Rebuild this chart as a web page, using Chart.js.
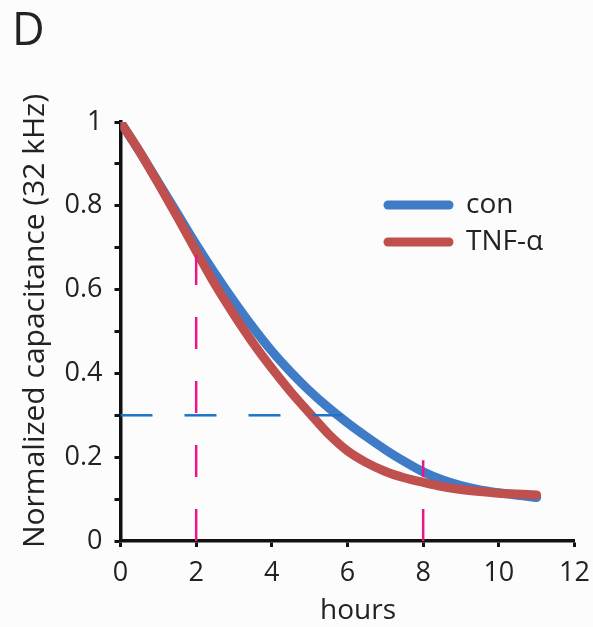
<!DOCTYPE html>
<html>
<head>
<meta charset="utf-8">
<script src="https://cdn.jsdelivr.net/npm/chart.js@4"></script>
<style>
  html, body { margin: 0; padding: 0; background: #fcfcfd; }
  #wrap { width: 593px; height: 627px; position: relative; }
</style>
</head>
<body>
<div id="wrap"><canvas id="chart" width="593" height="627"></canvas></div>
<script>
// --- data ---
const hours = [0, 0.5, 1, 1.5, 2, 2.5, 3, 3.5, 4, 4.5, 5, 5.5, 6, 6.5, 7, 7.5, 8, 8.5, 9, 9.5, 10, 10.5, 11];
const conValues = [1.0, 0.93, 0.856, 0.782, 0.708, 0.638, 0.572, 0.51, 0.453, 0.403, 0.358, 0.318, 0.282, 0.249, 0.218, 0.19, 0.165, 0.146, 0.132, 0.122, 0.115, 0.109, 0.104];
const tnfValues = [1.0, 0.93, 0.853, 0.774, 0.692, 0.612, 0.54, 0.473, 0.412, 0.356, 0.305, 0.255, 0.215, 0.187, 0.166, 0.151, 0.14, 0.13, 0.123, 0.118, 0.114, 0.112, 0.11];

// dashed guide lines
const halfLevelLine = [[0, 0.3], [5.86, 0.3]];
const guide2h = [[2, 0], [2, 0.683]];
const guide8h = [[8, 0], [8, 0.193]];

const xTicks = [0, 2, 4, 6, 8, 10, 12];
const yTicks = [0, 0.2, 0.4, 0.6, 0.8, 1];

const FONT = "'Open Sans', sans-serif";
const INK = '#222';

const toPts = (xs, ys) => xs.map((x, i) => ({ x: x, y: ys[i] }));
const pairPts = arr => arr.map(p => ({ x: p[0], y: p[1] }));

// --- extra text: panel letter, axis titles, legend ---
const decorations = {
    id: 'decorations',
    afterDraw(chart) {
        const ctx = chart.ctx;
        ctx.save();
        ctx.fillStyle = INK;
        ctx.textBaseline = 'alphabetic';

        ctx.font = `45px ${FONT}`;
        ctx.textAlign = 'left';
        ctx.fillText('D', 12, 45);

        ctx.font = `28px ${FONT}`;
        ctx.textAlign = 'center';
        ctx.fillText('hours', 358, 619);

        ctx.save();
        ctx.font = `30px ${FONT}`;
        ctx.translate(44, 321);
        ctx.rotate(-Math.PI / 2);
        ctx.fillText('Normalized capacitance (32 kHz)', 0, 0);
        ctx.restore();

        // legend
        const items = chart.data.datasets.filter(d => d.inLegend);
        items.forEach((ds, i) => {
            const y = 205 + i * 37;
            ctx.strokeStyle = ds.borderColor;
            ctx.lineWidth = 9;
            ctx.lineCap = 'round';
            ctx.beginPath();
            ctx.moveTo(388, y);
            ctx.lineTo(449, y);
            ctx.stroke();
            ctx.fillStyle = INK;
            ctx.font = `28px ${FONT}`;
            ctx.textAlign = 'left';
            ctx.textBaseline = 'middle';
            ctx.fillText(ds.label, 466, y);
        });
        ctx.restore();
    }
};

const curveStyle = {
    showLine: true,
    pointRadius: 0,
    borderWidth: 9,
    borderCapStyle: 'round',
    borderJoinStyle: 'round',
    cubicInterpolationMode: 'monotone',
    fill: false,
    inLegend: true
};

const dashStyle = {
    showLine: true,
    pointRadius: 0,
    borderWidth: 2.5,
    borderDash: [32, 32],
    fill: false,
    order: 0
};

new Chart(document.getElementById('chart'), {
    type: 'scatter',
    data: {
        datasets: [
            // higher order = drawn further back, so red sits over blue
            Object.assign({ label: 'con', data: toPts(hours, conValues), borderColor: '#3f7bc6', order: 2 }, curveStyle),
            Object.assign({ label: 'TNF-α', data: toPts(hours, tnfValues), borderColor: '#c0504d', order: 1 }, curveStyle),
            Object.assign({ label: 'level', data: pairPts(halfLevelLine), borderColor: '#1f74c4' }, dashStyle),
            Object.assign({ label: 'g2', data: pairPts(guide2h), borderColor: '#e8168a' }, dashStyle),
            Object.assign({ label: 'g8', data: pairPts(guide8h), borderColor: '#e8168a' }, dashStyle)
        ]
    },
    options: {
        responsive: false,
        animation: false,
        events: [],
        layout: { padding: { top: 122, right: 18.5, left: 0, bottom: 0 } },
        plugins: { legend: { display: false }, tooltip: { enabled: false } },
        scales: {
            x: {
                type: 'linear',
                min: 0, max: 12,
                afterFit: s => { s.height = 86; s.paddingRight = 0; s.paddingLeft = 0; },
                afterBuildTicks: s => { s.ticks = xTicks.map(v => ({ value: v })); },
                border: { color: '#111', width: 3.5 },
                grid: { drawOnChartArea: false, tickLength: 6, tickColor: '#111', tickWidth: 3 },
                ticks: { color: INK, padding: 10, font: { family: FONT, size: 27 }, maxRotation: 0 }
            },
            y: {
                type: 'linear',
                min: 0, max: 1,
                afterFit: s => { s.width = 120.5; s.paddingTop = 0; s.paddingBottom = 0; },
                ticks: {
                    stepSize: 0.1,
                    color: INK,
                    padding: 12,
                    font: { family: FONT, size: 27 },
                    callback: v => {
                        const t = Math.round(v * 10);
                        return t % 2 === 0 ? String(yTicks[t / 2]) : '';
                    }
                },
                border: { color: '#111', width: 3.5 },
                grid: { drawOnChartArea: false, tickLength: 6, tickColor: '#111', tickWidth: 3 }
            }
        }
    },
    plugins: [decorations]
});
</script>
</body>
</html>
